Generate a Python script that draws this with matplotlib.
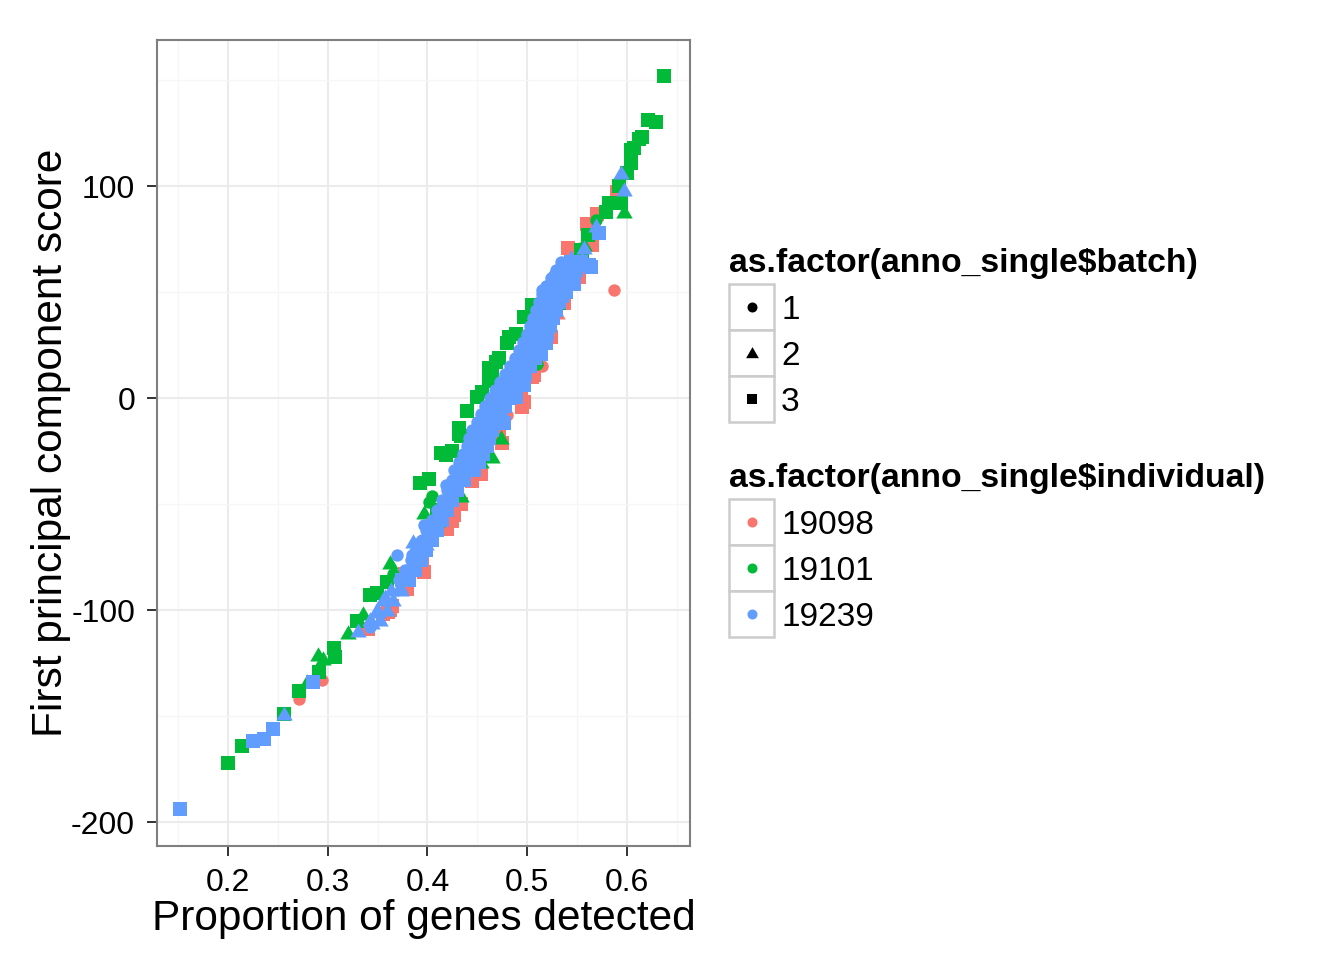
import matplotlib
matplotlib.use('Agg')
import matplotlib.pyplot as plt
from matplotlib.patches import Rectangle
from matplotlib.path import Path

plt.rcParams['font.family'] = ['Liberation Sans', 'DejaVu Sans']

RED, GREEN, BLUE = '#F8766D', '#00BA38', '#619CFF'

# ---------------- data: individual 19098 (red) ----------------
red_b1_x = [0.271, 0.294, 0.392, 0.395, 0.480, 0.515, 0.587]
red_b1_y = [-142, -133, -82, -81, -8, 15, 51]
red_b2_x = [0.445, 0.500, 0.530]
red_b2_y = [-25, 12, 40]
red_b3_x = [0.340, 0.355, 0.360, 0.362, 0.364, 0.377, 0.379, 0.394, 0.397, 0.420,
            0.425, 0.427, 0.434, 0.445, 0.454, 0.457, 0.459, 0.472, 0.475, 0.494,
            0.495, 0.497, 0.505, 0.507, 0.524, 0.532, 0.537, 0.541, 0.544, 0.545,
            0.550, 0.552, 0.560, 0.562, 0.565, 0.570, 0.590]
red_b3_y = [-109, -102, -101, -100, -98, -83, -90, -77, -82, -62,
            -58, -55, -50, -39, -36, -26, -25.5, -15, -21, 4,
            -4, -2, 10, 11, 29, 46, 45, 71, 68, 70,
            59, 57, 82, 82, 72, 87, 97]

# ---------------- data: individual 19101 (green) ----------------
green_b1_x = [0.365, 0.402, 0.405, 0.422, 0.510, 0.529, 0.554, 0.564, 0.569]
green_b1_y = [-83, -49, -46, -25.5, 16, 48, 71, 77, 84]
green_b2_x = [0.279, 0.290, 0.295, 0.320, 0.335, 0.362, 0.397, 0.410, 0.434, 0.454,
              0.465, 0.474, 0.534, 0.557, 0.597]
green_b2_y = [-134, -121, -123, -111, -102, -78, -54, -58, -46, -30,
              -28, -19, 54, 72, 88]
green_b3_x = [0.200, 0.214, 0.256, 0.271, 0.291, 0.306, 0.307, 0.329, 0.342, 0.349,
              0.359, 0.392, 0.402, 0.410, 0.414, 0.419, 0.425, 0.432, 0.434, 0.432,
              0.440, 0.450, 0.455, 0.462, 0.462, 0.465, 0.462, 0.469, 0.472, 0.480,
              0.482, 0.489, 0.497, 0.505, 0.532, 0.535, 0.539, 0.555, 0.554, 0.561,
              0.579, 0.582, 0.592, 0.594, 0.600, 0.604, 0.604, 0.607, 0.612, 0.615,
              0.621, 0.629, 0.637]
green_b3_y = [-172, -164, -149, -138, -129, -118, -122, -105, -93, -92,
              -87, -40, -38, -53, -26, -27, -25, -17, -18, -14,
              -6, 0.5, 3, 8, 10, 12, 14, 17, 19, 26,
              29, 30, 38, 44, 45, 56, 60, 67, 70, 77,
              88, 92, 100, 92, 106, 111, 117, 118, 122, 123,
              131, 130, 152]

# ---------------- data: individual 19239 (blue) ----------------
blue_b1_x = [0.342, 0.369, 0.384, 0.397, 0.419, 0.515, 0.527]
blue_b1_y = [-108, -74, -74, -60, -41, 51, 58]
blue_b2_x = [0.256, 0.330, 0.344, 0.350, 0.357, 0.372, 0.379, 0.385, 0.385, 0.389,
             0.399, 0.537, 0.544, 0.545, 0.555, 0.557, 0.569, 0.594, 0.597]
blue_b2_y = [-149, -110, -106, -101, -94, -89, -84, -80, -68, -69,
             -69, 62, 66, 59, 65, 71, 81, 106, 98]
blue_b3_x = [0.152, 0.225, 0.236, 0.245, 0.285, 0.374, 0.404, 0.410, 0.477, 0.489,
             0.497, 0.514, 0.519, 0.525, 0.535, 0.539, 0.547, 0.562, 0.564, 0.572]
blue_b3_y = [-194, -162, -161, -156, -134, -86, -64, -62, -12, 0.5,
             6, 21, 26, 42, 48, 50, 54, 63, 62, 78]

# dense overlapping core of 19239 (estimated)
blue_low_tri_left_x = [0.342, 0.349, 0.355, 0.363]
blue_low_tri_right_x = [0.352, 0.359, 0.365, 0.373]
blue_low_tri_y = [-104.7, -100.0, -95.3, -90.6]
blue_low_left_x = [0.371, 0.377, 0.383, 0.389, 0.394, 0.399, 0.405, 0.410, 0.415, 0.420, 0.425]
blue_low_right_x = [0.381, 0.387, 0.393, 0.399, 0.405, 0.410, 0.415, 0.420, 0.425, 0.430, 0.437]
blue_low_y = [-85.8, -81.1, -76.4, -71.7, -67.0, -62.3, -57.5, -52.8, -48.1, -43.4, -38.7]
blue_core_left_x = [0.427, 0.432, 0.436, 0.440, 0.442, 0.445, 0.450, 0.454, 0.458, 0.463,
                    0.468, 0.473, 0.478, 0.483, 0.488, 0.492, 0.496, 0.500, 0.503, 0.506,
                    0.509, 0.512, 0.515, 0.519, 0.524, 0.529, 0.534]
blue_core_mid_x = [0.437, 0.442, 0.446, 0.450, 0.452, 0.455, 0.460, 0.464, 0.468, 0.473,
                   0.478, 0.483, 0.488, 0.493, 0.498, 0.502, 0.506, 0.510, 0.513, 0.516,
                   0.519, 0.522, 0.525, 0.529, 0.534, 0.539, 0.544]
blue_core_right_x = [0.447, 0.452, 0.456, 0.460, 0.462, 0.465, 0.470, 0.474, 0.478, 0.483,
                     0.488, 0.493, 0.498, 0.503, 0.508, 0.512, 0.516, 0.520, 0.523, 0.526,
                     0.529, 0.532, 0.535, 0.539, 0.544, 0.549, 0.554]
blue_core_y = [-34.0, -30.2, -26.4, -22.6, -18.9, -15.1, -11.3, -7.5, -3.8, 0.0,
               3.8, 7.5, 11.3, 15.1, 18.9, 22.6, 26.4, 30.2, 34.0, 37.7,
               41.5, 45.3, 49.1, 52.8, 56.6, 60.4, 64.2]

x_ticks = [0.2, 0.3, 0.4, 0.5, 0.6]
x_tick_labels = ['0.2', '0.3', '0.4', '0.5', '0.6']
x_minor = [0.15, 0.25, 0.35, 0.45, 0.55, 0.65]
y_ticks = [-200, -100, 0, 100]
y_tick_labels = ['-200', '-100', '0', '100']
y_minor = [-150, -50, 50, 150]

batch_labels = ['1', '2', '3']
indiv_labels = ['19098', '19101', '19239']

# ---------------- figure ----------------
W, H = 1344, 960
fig = plt.figure(figsize=(W / 100, H / 100), dpi=100, facecolor='white')
ax = fig.add_axes([157 / W, 1 - 846 / H, (690 - 157) / W, (846 - 40) / H])

tri = Path([(-1, -0.732), (1, -0.732), (0, 1), (-1, -0.732)],
           [Path.MOVETO, Path.LINETO, Path.LINETO, Path.CLOSEPOLY])
S_CIRC, S_TRI, S_SQ = 80, 140, 92

def draw(xs, ys, color, marker):
    if isinstance(marker, str):
        size = S_CIRC if marker == 'o' else S_SQ
    else:
        size = S_TRI
    ax.scatter(xs, ys, s=size, c=color, marker=marker, linewidths=0, zorder=3)

draw(red_b1_x, red_b1_y, RED, 'o')
draw(red_b2_x, red_b2_y, RED, tri)
draw(red_b3_x, red_b3_y, RED, 's')
draw(green_b1_x, green_b1_y, GREEN, 'o')
draw(green_b2_x, green_b2_y, GREEN, tri)
draw(green_b3_x, green_b3_y, GREEN, 's')
draw(blue_low_tri_left_x, blue_low_tri_y, BLUE, tri)
draw(blue_low_tri_right_x, blue_low_tri_y, BLUE, tri)
draw(blue_low_left_x, blue_low_y, BLUE, 'o')
draw(blue_low_right_x, blue_low_y, BLUE, 's')
draw(blue_core_left_x, blue_core_y, BLUE, 'o')
draw(blue_core_mid_x, blue_core_y, BLUE, 's')
draw(blue_core_right_x, blue_core_y, BLUE, 's')
draw(blue_b1_x, blue_b1_y, BLUE, 'o')
draw(blue_b2_x, blue_b2_y, BLUE, tri)
draw(blue_b3_x, blue_b3_y, BLUE, 's')

ax.set_xlim(0.1288, 0.6632)
ax.set_ylim(-211.3, 168.9)
ax.set_xticks(x_ticks)
ax.set_xticklabels(x_tick_labels)
ax.set_yticks(y_ticks)
ax.set_yticklabels(y_tick_labels)
ax.set_xticks(x_minor, minor=True)
ax.set_yticks(y_minor, minor=True)
ax.set_axisbelow(True)
ax.grid(which='major', color='#EBEBEB', lw=1.5)
ax.grid(which='minor', color='#F6F6F6', lw=1.0)
ax.tick_params(which='minor', length=0)
ax.tick_params(which='major', length=7.2, width=1.4, color='#333333',
               labelsize=23, labelcolor='black', pad=8.6)
for sp in ax.spines.values():
    sp.set_color('#7F7F7F')
    sp.set_linewidth(1.5)

fig.text(423.5 / W, 1 - 930 / H, 'Proportion of genes detected', fontsize=30.5,
         ha='center', va='baseline')
fig.text(62 / W, 1 - 443 / H, 'First principal component score', fontsize=30.5,
         rotation=90, rotation_mode='anchor', ha='center', va='baseline')

# ---------------- legend (drawn in pixel space) ----------------
lax = fig.add_axes([0, 0, 1, 1])
lax.set_xlim(0, W)
lax.set_ylim(H, 0)
lax.axis('off')

lax.text(729, 272, 'as.factor(anno_single$batch)', fontsize=24.3, fontweight='bold',
         ha='left', va='baseline', parse_math=False)
shapes = ['o', tri, 's']
shape_sizes = [52, 85, 55]
for i, lab in enumerate(batch_labels):
    top = 284 + 46 * i
    lax.add_patch(Rectangle((729, top), 45, 46, facecolor='white', edgecolor='#CCCCCC', lw=1.8))
    lax.scatter([751.5], [top + 23], s=shape_sizes[i], c='black', marker=shapes[i], linewidths=0, zorder=4)
    lax.text(781, top + 35, lab, fontsize=24, ha='left', va='baseline')

lax.text(729, 487, 'as.factor(anno_single$individual)', fontsize=24.3, fontweight='bold',
         ha='left', va='baseline', parse_math=False)
for i, (lab, col) in enumerate(zip(indiv_labels, [RED, GREEN, BLUE])):
    top = 499 + 46 * i
    lax.add_patch(Rectangle((729, top), 45, 46, facecolor='white', edgecolor='#CCCCCC', lw=1.8))
    lax.scatter([751.5], [top + 23], s=52, c=col, marker='o', linewidths=0, zorder=4)
    lax.text(781, top + 35, lab, fontsize=24, ha='left', va='baseline')

fig.savefig('out.png', dpi=100, facecolor='white')
